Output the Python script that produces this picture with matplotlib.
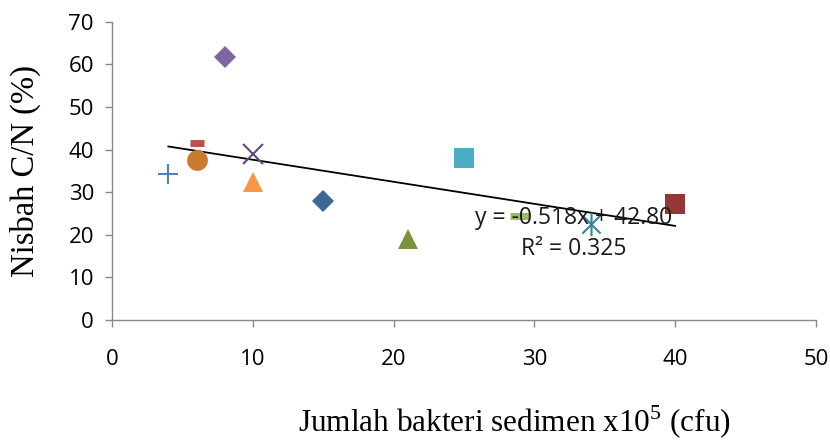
import matplotlib.pyplot as plt
from matplotlib.path import Path

plt.rcParams["mathtext.fontset"] = "custom"
plt.rcParams["mathtext.rm"] = "Liberation Serif"

# Data
bakteri = [4, 6, 6, 8, 10, 10, 15, 21, 25, 29, 34, 40]
nisbah_cn = [34.3, 41.5, 37.5, 61.8, 39.0, 32.5, 28.0, 19.0, 38.0, 24.5, 22.5, 27.2]

slope = -0.518
intercept = 42.80
r_squared = 0.325

x_ticks = [0, 10, 20, 30, 40, 50]
y_ticks = [0, 10, 20, 30, 40, 50, 60, 70]

# Excel "star" marker: an x with a vertical stroke
star = Path([(-1, -1), (1, 1), (-1, 1), (1, -1), (0, -1.3), (0, 1.3)],
            [Path.MOVETO, Path.LINETO, Path.MOVETO, Path.LINETO, Path.MOVETO, Path.LINETO])

# one marker style per sample (Excel default series styles)
styles = [
    dict(marker="+", color="#4F81BD", ms=15, mew=1.5),
    dict(marker="_", color="#C0504D", ms=10, mew=5),
    dict(marker="o", color="#CB7A32", ms=15, mew=0),
    dict(marker="D", color="#8064A2", ms=11, mew=0),
    dict(marker="x", color="#604A7B", ms=14, mew=1.5),
    dict(marker="^", color="#F79646", ms=15, mew=0),
    dict(marker="D", color="#3C6898", ms=11, mew=0),
    dict(marker="^", color="#77933C", ms=15, mew=0),
    dict(marker="s", color="#4BACC6", ms=14, mew=0),
    dict(marker="_", color="#9BBB59", ms=14, mew=5),
    dict(marker=star, color="#31859C", ms=17, mew=1.5),
    dict(marker="s", color="#953735", ms=14, mew=0),
]

fig = plt.figure(figsize=(8.3, 4.45), dpi=100)
ax = fig.add_axes([0.135, 0.281, 0.848, 0.670])

for x, y, st in zip(bakteri, nisbah_cn, styles):
    ax.plot([x], [y], linestyle="none", marker=st["marker"], color=st["color"],
            markersize=st["ms"], markeredgewidth=st["mew"], zorder=3)

x_fit = [min(bakteri), max(bakteri)]
y_fit = [slope * v + intercept for v in x_fit]
ax.plot(x_fit, y_fit, color="black", linewidth=1.3, zorder=2)

ax.text(32.8, 24.0, f"y = {slope:.3f}x + {intercept:.2f}", ha="center", va="center",
        fontsize=16.5, family="Open Sans", color="#1a1a1a", zorder=4)
ax.text(32.8, 16.6, f"R² = {r_squared:.3f}", ha="center", va="center",
        fontsize=16.5, family="Open Sans", color="#1a1a1a", zorder=4)

ax.set_xlim(0, 50)
ax.set_ylim(0, 70)
ax.set_xticks(x_ticks)
ax.set_yticks(y_ticks)
ax.tick_params(axis="both", colors="#888888", labelcolor="black", length=5, width=1,
               labelsize=16)
ax.tick_params(axis="x", pad=16)
ax.tick_params(axis="y", pad=8)
for lab in ax.get_xticklabels() + ax.get_yticklabels():
    lab.set_family("Open Sans")

for side in ["top", "right"]:
    ax.spines[side].set_visible(False)
for side in ["left", "bottom"]:
    ax.spines[side].set_color("#888888")
    ax.spines[side].set_linewidth(1)

ax.set_xlabel("Jumlah bakteri sedimen x10$^{\\mathrm{5}}$ (cfu)", family="Liberation Serif",
              fontsize=22.5)
ax.xaxis.set_label_coords(0.572, -0.28)
ax.set_ylabel("Nisbah C/N (%)", family="Liberation Serif", fontsize=23.5, labelpad=20)

fig.savefig("out.png", dpi=100)
